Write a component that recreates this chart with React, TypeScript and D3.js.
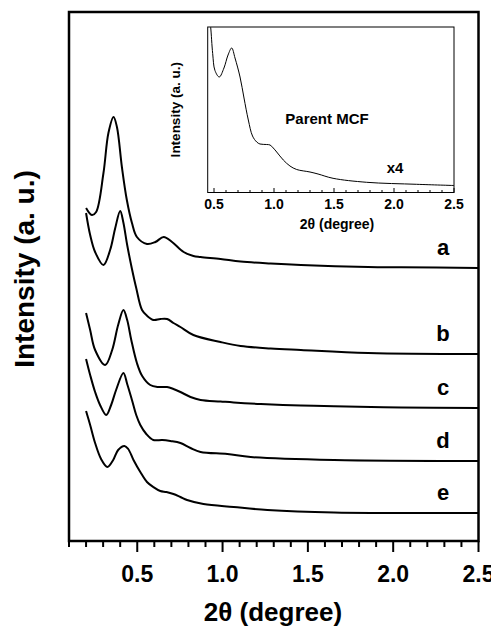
import React from "react";
import * as d3 from "d3";

type Pt = [number, number];

// Low-angle XRD patterns (2θ in degrees, intensity in a. u. above each trace's baseline)
const seriesLabels = ["a", "b", "c", "d", "e"];
const seriesOffsets = [273, 187, 133, 80, 28];

const traceA: Pt[] = [
  [0.2, 60], [0.234, 53], [0.259, 56], [0.302, 95], [0.331, 135], [0.361, 151],
  [0.381, 141], [0.41, 101], [0.439, 68], [0.469, 45], [0.498, 31], [0.557, 24],
  [0.606, 26], [0.655, 31], [0.704, 26], [0.772, 16], [0.829, 12], [0.871, 11],
  [0.988, 9], [1.106, 6.5], [1.282, 4.5], [1.459, 3], [1.853, 1], [2.047, 0.7], [2.5, 0],
];
const traceB: Pt[] = [
  [0.2, 141], [0.224, 119], [0.253, 102], [0.302, 89], [0.341, 104], [0.371, 126],
  [0.4, 143], [0.418, 132], [0.441, 109], [0.469, 85], [0.494, 66], [0.528, 44],
  [0.559, 38], [0.596, 34], [0.635, 35], [0.675, 35], [0.712, 31], [0.753, 27],
  [0.829, 19], [0.988, 12], [1.106, 8], [1.282, 5.5], [1.459, 4], [1.853, 1], [2.5, 0],
];
const traceC: Pt[] = [
  [0.2, 95], [0.224, 78], [0.253, 58], [0.312, 43], [0.353, 58], [0.388, 83],
  [0.419, 98], [0.441, 88], [0.465, 68], [0.498, 45], [0.529, 32], [0.576, 23],
  [0.624, 21], [0.675, 21], [0.712, 19], [0.753, 16], [0.812, 11], [0.871, 8],
  [0.988, 6.5], [1.065, 5.5], [1.224, 4], [1.459, 2.5], [1.653, 1.8], [2.047, 0.5], [2.5, 0],
];
const traceD: Pt[] = [
  [0.2, 102], [0.224, 86], [0.253, 69], [0.282, 56], [0.318, 46], [0.347, 56],
  [0.376, 71], [0.419, 88], [0.441, 77], [0.469, 61], [0.494, 46], [0.518, 36],
  [0.553, 27], [0.594, 21], [0.647, 21], [0.694, 20], [0.753, 18], [0.812, 13],
  [0.871, 9], [1.028, 7], [1.165, 4], [1.653, 1], [2.5, 0],
];
const traceE: Pt[] = [
  [0.2, 102], [0.224, 88], [0.253, 70], [0.288, 54], [0.325, 46], [0.359, 53],
  [0.388, 63], [0.425, 67], [0.447, 64], [0.478, 53], [0.518, 41], [0.557, 31],
  [0.594, 26], [0.635, 22], [0.671, 21], [0.712, 19], [0.753, 16], [0.792, 13],
  [0.888, 9], [1.065, 6], [1.263, 3], [1.653, 0.5], [2.5, 0],
];
const traces = [traceA, traceB, traceC, traceD, traceE];

// Parent MCF pattern (inset, x4)
const parentTrace: Pt[] = [
  [0.465, 172], [0.4725, 165], [0.489, 139], [0.508, 122], [0.544, 115.5], [0.583, 124.5],
  [0.617, 137.5], [0.6475, 144.5], [0.675, 134.5], [0.717, 115.5], [0.75, 94.5],
  [0.786, 72.5], [0.821, 56.5], [0.856, 50.5], [0.883, 48.5], [0.939, 48],
  [0.967, 47.5], [0.994, 44.5], [1.0225, 40.5], [1.0775, 32.5], [1.133, 26.5],
  [1.189, 23], [1.3, 20.5], [1.367, 18.5], [1.492, 14.2], [1.7725, 10.2],
  [2.189, 8.2], [2.5, 7],
];

const mainTickLabels = ["0.5", "1.0", "1.5", "2.0", "2.5"];
const insetTickLabels = ["0.5", "1.0", "1.5", "2.0", "2.5"];

const FONT = "'Liberation Sans', Arial, Helvetica, sans-serif";

export default function App() {
  const W = 491;
  const H = 630;

  // main panel
  const m = { left: 69, right: 478.5, top: 12, bottom: 541 };
  const x = d3.scaleLinear().domain([0.1, 2.5]).range([m.left, m.right]);
  const y = d3.scaleLinear().domain([0, 529]).range([m.bottom, m.top]);

  // inset panel
  const ins = { left: 207.7, right: 454, top: 27, bottom: 192.5 };
  const xi = d3.scaleLinear().domain([0.4475, 2.5]).range([ins.left, ins.right]);
  const yi = d3.scaleLinear().domain([0, 165.5]).range([ins.bottom, ins.top]);

  const mainTicks = d3.range(1, 26).map((i) => i / 10);
  const insetTicks = d3.range(5, 26).map((i) => i / 10);

  const insetLine = d3
    .line<Pt>()
    .x((d) => xi(d[0]))
    .y((d) => yi(d[1]))
    .curve(d3.curveCatmullRom.alpha(0.5));

  return (
    <svg
      width={W}
      height={H}
      viewBox={`0 0 ${W} ${H}`}
      style={{ position: "absolute", left: 0, top: 0, background: "#fff" }}
      fontFamily={FONT}
    >
      <defs>
        <clipPath id="inset-clip">
          <rect x={ins.left} y={ins.top} width={ins.right - ins.left} height={ins.bottom - ins.top} />
        </clipPath>
      </defs>
      <rect x={0} y={0} width={W} height={H} fill="#fff" />

      {/* stacked traces */}
      {traces.map((tr, i) => {
        const off = seriesOffsets[i];
        const line = d3
          .line<Pt>()
          .x((d) => x(d[0]))
          .y((d) => y(d[1] + off))
          .curve(d3.curveCatmullRom.alpha(0.5));
        return (
          <path key={seriesLabels[i]} d={line(tr) || ""} fill="none" stroke="#000" strokeWidth={2} strokeLinejoin="round" />
        );
      })}

      {/* trace letters */}
      {seriesLabels.map((lab, i) => {
        const base = y(seriesOffsets[i]);
        return (
          <text key={lab} x={443} y={base - 13} textAnchor="middle" fontSize={22} fontWeight="bold">
            {lab}
          </text>
        );
      })}

      {/* main frame */}
      <rect
        x={m.left}
        y={m.top}
        width={m.right - m.left}
        height={m.bottom - m.top}
        fill="none"
        stroke="#000"
        strokeWidth={2.5}
      />

      {/* main x ticks (outside) */}
      {mainTicks.map((t) => {
        const major = Math.abs(t * 2 - Math.round(t * 2)) < 1e-6;
        return (
          <line
            key={t}
            x1={x(t)}
            x2={x(t)}
            y1={m.bottom}
            y2={m.bottom + (major ? 11 : 6)}
            stroke="#000"
            strokeWidth={2}
          />
        );
      })}
      {mainTickLabels.map((lab) => (
        <text key={lab} x={x(+lab)} y={582} textAnchor="middle" fontSize={23} fontWeight="bold">
          {lab}
        </text>
      ))}
      <text x={273} y={621} textAnchor="middle" fontSize={26} fontWeight="bold">
        2θ (degree)
      </text>
      <text
        transform={`translate(34,269) rotate(-90)`}
        textAnchor="middle"
        fontSize={28}
        fontWeight="bold"
      >
        Intensity (a. u.)
      </text>

      {/* inset */}
      <rect x={ins.left} y={ins.top} width={ins.right - ins.left} height={ins.bottom - ins.top} fill="#fff" stroke="none" />
      <path
        d={insetLine(parentTrace) || ""}
        fill="none"
        stroke="#000"
        strokeWidth={1}
        clipPath="url(#inset-clip)"
      />
      <rect
        x={ins.left}
        y={ins.top}
        width={ins.right - ins.left}
        height={ins.bottom - ins.top}
        fill="none"
        stroke="#000"
        strokeWidth={1}
      />
      {insetTicks.map((t) => {
        const major = Math.abs(t * 2 - Math.round(t * 2)) < 1e-6;
        return (
          <line
            key={t}
            x1={xi(t)}
            x2={xi(t)}
            y1={ins.bottom}
            y2={ins.bottom - (major ? 4.5 : 2.5)}
            stroke="#000"
            strokeWidth={1}
          />
        );
      })}
      {insetTickLabels.map((lab) => (
        <text key={lab} x={xi(+lab)} y={209} textAnchor="middle" fontSize={14} fontWeight="bold">
          {lab}
        </text>
      ))}
      <text x={337} y={229} textAnchor="middle" fontSize={14} fontWeight="bold">
        2θ (degree)
      </text>
      <text
        transform={`translate(180,${(ins.top + ins.bottom) / 2}) rotate(-90)`}
        textAnchor="middle"
        fontSize={13.5}
        fontWeight="bold"
      >
        Intensity (a. u.)
      </text>
      <text x={327} y={124} textAnchor="middle" fontSize={15} fontWeight="bold">
        Parent MCF
      </text>
      <text x={395} y={173} textAnchor="middle" fontSize={15} fontWeight="bold">
        x4
      </text>
    </svg>
  );
}
